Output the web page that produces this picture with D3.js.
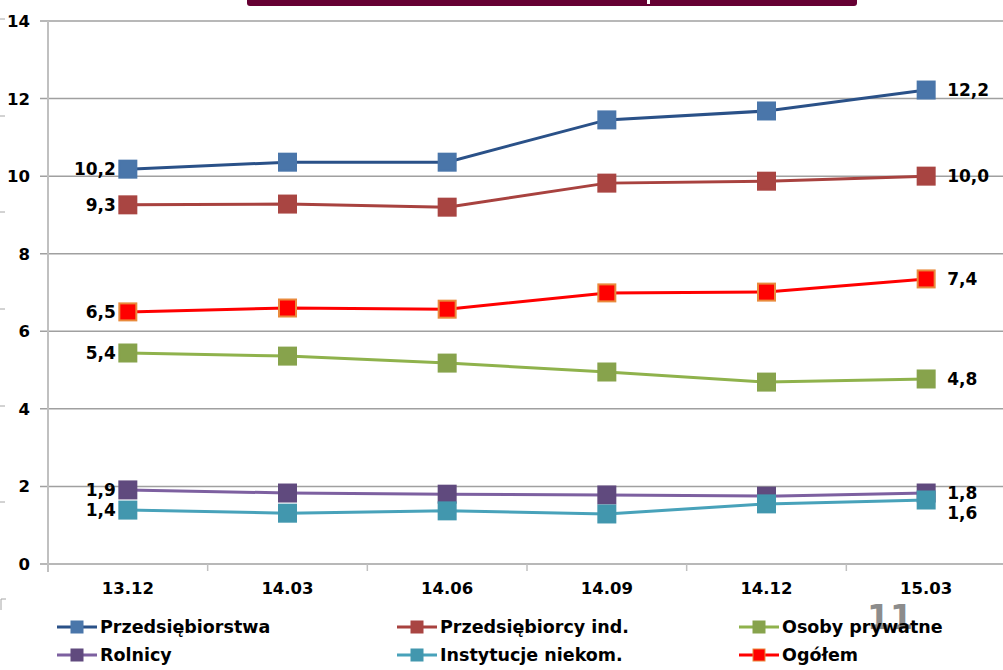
<!DOCTYPE html>
<html><head><meta charset="utf-8">
<script src="https://cdn.jsdelivr.net/npm/d3@7/dist/d3.min.js"></script>
<style>
html,body{margin:0;padding:0;background:#fff;}
svg{display:block;}
text{font-family:"DejaVu Sans",Verdana,sans-serif;font-weight:bold;}
</style></head>
<body>
<svg id="c" width="1003" height="670"></svg>
<script>
const categories = ["13.12","14.03","14.06","14.09","14.12","15.03"];
const yTicks = [0,2,4,6,8,10,12,14];
const seriesNames = ["Przedsiębiorstwa","Przedsiębiorcy ind.","Osoby prywatne","Rolnicy","Instytucje niekom.","Ogółem"];
const przedsiebiorstwa = [10.18,10.36,10.36,11.45,11.68,12.22];
const przedsiebiorcyInd = [9.26,9.28,9.2,9.82,9.87,10.0];
const osobyPrywatne = [5.44,5.36,5.18,4.95,4.69,4.77];
const rolnicy = [1.91,1.83,1.8,1.78,1.75,1.83];
const instytucje = [1.39,1.31,1.37,1.29,1.55,1.65];
const ogolem = [6.5,6.6,6.57,6.99,7.01,7.35];
const firstLabels = ["10,2","9,3","5,4","1,9","1,4","6,5"];
const lastLabels = ["12,2","10,0","4,8","1,8","1,6","7,4"];

const values = [przedsiebiorstwa, przedsiebiorcyInd, osobyPrywatne, rolnicy, instytucje, ogolem];
const styles = [
  {line:"#2a5188", fill:"#4a76aa", stroke:"#4a76aa", rdy:0},
  {line:"#a8423f", fill:"#a94542", stroke:"#a94542", rdy:0},
  {line:"#8fb24c", fill:"#87a34c", stroke:"#87a34c", rdy:0},
  {line:"#7d60a0", fill:"#604a7e", stroke:"#604a7e", rdy:0},
  {line:"#48a2ba", fill:"#4297ae", stroke:"#4297ae", rdy:13},
  {line:"#ff0000", fill:"#ff0000", stroke:"#e98a3c", rdy:0}
];
const drawOrder = [0,1,2,3,4,5];

const svg = d3.select("#c");
const x = d3.scaleBand().domain(categories).range([48,1006]);
const y = d3.scaleLinear().domain([0,14]).range([564,21]);
const cx = c => x(c) + x.bandwidth()/2;

// title box (cut off at top)
svg.append("rect").attr("x",247).attr("y",-10).attr("width",610).attr("height",16).attr("rx",3).attr("fill","#660033");
svg.append("rect").attr("x",647).attr("y",0).attr("width",3).attr("height",4).attr("fill","#fff");

// stray left ticks
[19,116,212,309,406,502].forEach(v=>{
  svg.append("line").attr("x1",0).attr("x2",5).attr("y1",v).attr("y2",v).attr("stroke","#a6a6a6").attr("stroke-width",1);
});
svg.append("path").attr("d","M1,610 V599 H6").attr("fill","none").attr("stroke","#a6a6a6").attr("stroke-width",1);

// gridlines
svg.append("g").selectAll("line").data(yTicks).join("line")
  .attr("x1",40).attr("x2",1003).attr("y1",d=>y(d)).attr("y2",d=>y(d))
  .attr("stroke","#a0a0a0").attr("stroke-width",1.5);

// y axis line
svg.append("line").attr("x1",48).attr("x2",48).attr("y1",21).attr("y2",572).attr("stroke","#c0c0c0").attr("stroke-width",2);

// x axis ticks
const bounds = categories.map(c=>x(c)).concat([x(categories[categories.length-1])+x.bandwidth()]);
svg.append("g").selectAll("line").data(bounds.slice(1)).join("line")
  .attr("x1",d=>d).attr("x2",d=>d).attr("y1",564).attr("y2",571)
  .attr("stroke","#c0c0c0").attr("stroke-width",1.5);

// y tick labels
svg.append("g").selectAll("text").data(yTicks).join("text")
  .attr("x",30).attr("y",d=>y(d)).attr("dy","0.36em").attr("text-anchor","end")
  .attr("font-size",16.5).attr("fill","#000").text(d=>d);

// x labels
svg.append("g").selectAll("text").data(categories).join("text")
  .attr("x",d=>cx(d)).attr("y",594).attr("text-anchor","middle")
  .attr("font-size",16.5).attr("fill","#000").text(d=>d);

// page number
svg.append("text").attr("x",890).attr("y",629).attr("text-anchor","middle")
  .attr("font-size",33).attr("fill","#8c8c8c").attr("font-family","'DejaVu Sans Condensed','DejaVu Sans',sans-serif").text("11");

// series
const line = d3.line().x((d,i)=>cx(categories[i])).y(d=>y(d));
const ms = 19;
drawOrder.forEach(k=>{
  const s = styles[k], v = values[k];
  const g = svg.append("g");
  g.append("path").attr("d",line(v)).attr("fill","none").attr("stroke",s.line).attr("stroke-width",3);
  g.selectAll("rect").data(v).join("rect")
    .attr("x",(d,i)=>cx(categories[i])-ms/2+1).attr("y",d=>y(d)-ms/2+1)
    .attr("width",ms-2).attr("height",ms-2)
    .attr("fill",s.fill).attr("stroke",s.stroke).attr("stroke-width",2);
});
// data labels
drawOrder.forEach(k=>{
  const s = styles[k], v = values[k];
  svg.append("text").attr("x",cx(categories[0])-12).attr("y",y(v[0])).attr("dy","0.36em")
    .attr("text-anchor","end").attr("font-size",17).attr("fill","#000").text(firstLabels[k]);
  svg.append("text").attr("x",cx(categories[5])+21).attr("y",y(v[5])+s.rdy).attr("dy","0.36em")
    .attr("text-anchor","start").attr("font-size",17).attr("fill","#000").text(lastLabels[k]);
});

// legend
const colX = [57,397,739], rowY = [627,655];
seriesNames.forEach((n,i)=>{
  const lx = colX[i%3], ly = rowY[Math.floor(i/3)], s = styles[i];
  const g = svg.append("g");
  g.append("line").attr("x1",lx).attr("x2",lx+40).attr("y1",ly).attr("y2",ly).attr("stroke",s.line).attr("stroke-width",3);
  g.append("rect").attr("x",lx+14).attr("y",ly-6).attr("width",12).attr("height",12).attr("fill",s.fill).attr("stroke",s.stroke).attr("stroke-width",1);
  g.append("text").attr("x",lx+43).attr("y",ly+6).attr("font-size",17.5).attr("fill","#000").text(n);
});
</script>
</body></html>
